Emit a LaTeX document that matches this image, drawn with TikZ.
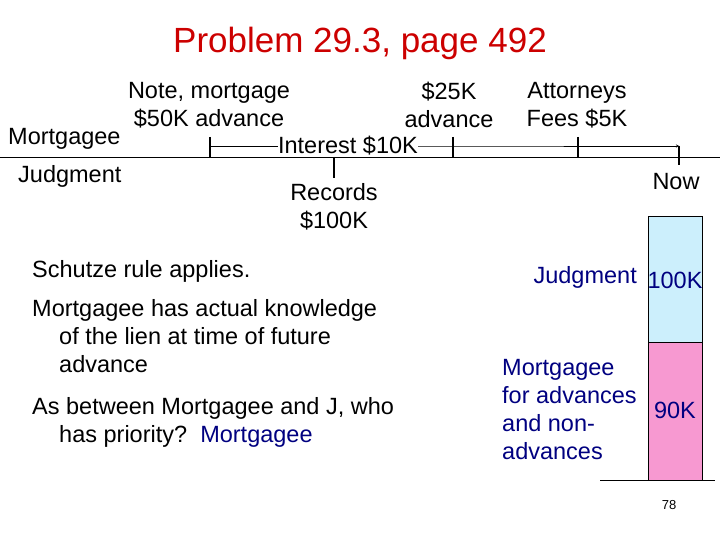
\documentclass[tikz,border=0pt]{standalone}
\usepackage{fontspec}
\setmainfont{Liberation Sans}
\begin{document}
\begin{tikzpicture}[x=1pt,y=-1pt,
  txt/.style={inner sep=0pt,font=\fontsize{23.5}{28}\selectfont},
  navy/.style={txt,text=blue!50!black},
  tick/.style={line width=1.5pt}]
\useasboundingbox (0,0) rectangle (720,540);
\node[txt,text=red!80!black,font=\fontsize{35}{40}\selectfont] (title) at (360,43) {Problem 29.3, page 492};
\node[txt,align=center] (note) at (209,105) {Note, mortgage\\\$50K advance};
\node[txt,align=center] (adv) at (449,105) {\$25K\\advance};
\node[txt,align=center] (att) at (577,105) {Attorneys\\Fees \$5K};
\node[txt,anchor=west] (mg) at (8,139) {Mortgagee};
\node[txt,anchor=west] (jd) at (18,176) {Judgment};
\node[txt] (int) at (348,146) {Interest \$10K};
\node[txt,align=center] (rec) at (334,207) {Records\\\$100K};
\node[txt] (now) at (676,182) {Now};
\coordinate (L) at (0,157); \coordinate (R) at (720,157);
\draw (L) -- (R);
\coordinate (t1) at (210,152);
\draw[tick] (210,137) -- (210,157);
\draw[tick] (334,157) -- (334,178);
\draw[tick] (453,137) -- (453,157);
\draw[tick] (578,137) -- (578,157);
\draw[tick] (679,146) -- (679,165);
\draw (t1|-int) -- (int.west);
\draw[-stealth] (int.east) -- (453,146) -- (679,146);
\node[txt,anchor=west] (s1) at (32,271) {Schutze rule applies.};
\node[txt,anchor=north west,align=left] (s2) at (32,299) {Mortgagee has actual knowledge\\\hspace{1.15em}of the lien at time of future\\\hspace{1.15em}advance};
\node[txt,anchor=north west,align=left] (s3) at (32,397) {As between Mortgagee and J, who\\\hspace{1.15em}has priority?\ \ \textcolor{blue!50!black}{Mortgagee}};
\node[navy,anchor=east] (jl) at (637,277) {Judgment};
\node[navy,anchor=west,align=left] (ml) at (502,410) {Mortgagee\\for advances\\and non-\\advances};
\draw[fill=cyan!20] (648,216) rectangle (702,342);
\draw[fill=magenta!40] (648,342) rectangle (702,480);
\node[navy] (v1) at (675,280) {100K};
\node[navy] (v2) at (675,410) {90K};
\draw (600,480) -- (715,480);
\node[txt,font=\fontsize{13}{15}\selectfont] (pg) at (669,505) {78};
\end{tikzpicture}
\end{document}
